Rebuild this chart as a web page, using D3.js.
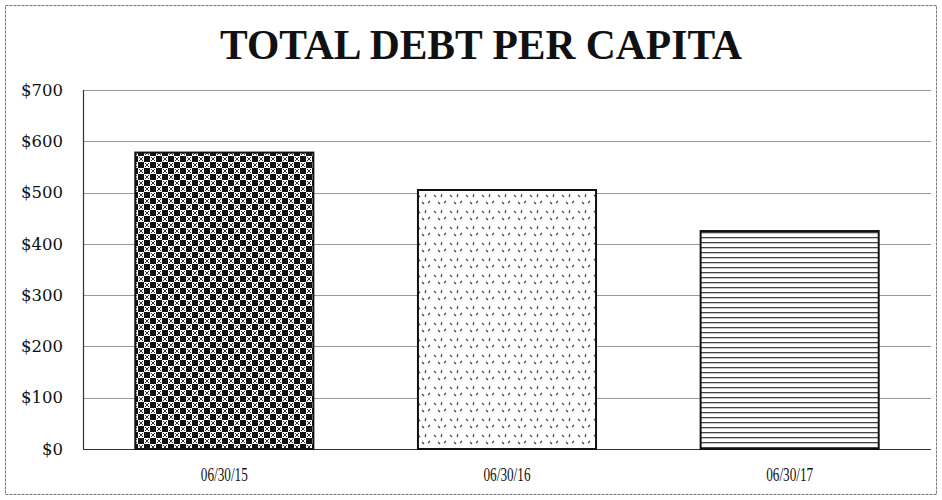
<!DOCTYPE html>
<html><head><meta charset="utf-8">
<script src="https://cdn.jsdelivr.net/npm/d3@7"></script>
<style>body{margin:0;background:#fff}svg{display:block}</style>
</head><body>
<script>
const categories = ["06/30/15", "06/30/16", "06/30/17"];
const values = [578, 505, 425];
const yTicks = [0, 100, 200, 300, 400, 500, 600, 700];
const title = "TOTAL DEBT PER CAPITA";

const W = 942, H = 500;
const m = {left: 83, right: 11, top: 90, bottom: 51};
const svg = d3.select("body").append("svg").attr("width", W).attr("height", H);
const defs = svg.append("defs");

// checkerboard
const p1 = defs.append("pattern").attr("id","p1").attr("patternUnits","userSpaceOnUse").attr("width",12).attr("height",12);
p1.append("rect").attr("width",12).attr("height",12).attr("fill","#fff");
p1.append("rect").attr("x",0).attr("y",0).attr("width",6).attr("height",6).attr("fill","#111");
p1.append("rect").attr("x",6).attr("y",6).attr("width",6).attr("height",6).attr("fill","#111");
p1.append("path").attr("d","M7 1 L11 5 M11 1 L7 5 M1 7 L5 11 M5 7 L1 11").attr("stroke","#333").attr("stroke-width",1);
// sparse dots
const p2 = defs.append("pattern").attr("id","p2").attr("patternUnits","userSpaceOnUse").attr("width",16).attr("height",16);
p2.append("rect").attr("width",16).attr("height",16).attr("fill","#fff");
p2.append("path").attr("d","M2 3 L4 5 M10 2 L9 5 M6 10 L8 12 M14 9 L12 11").attr("stroke","#444").attr("stroke-width",1.2);
// horizontal lines
const p3 = defs.append("pattern").attr("id","p3").attr("patternUnits","userSpaceOnUse").attr("width",8).attr("height",5);
p3.append("rect").attr("width",8).attr("height",5).attr("fill","#fff");
p3.append("rect").attr("y",2).attr("width",8).attr("height",1.3).attr("fill","#444");
const fills = ["url(#p1)","url(#p2)","url(#p3)"];

// outer frame
svg.append("rect").attr("x",5.5).attr("y",5.5).attr("width",W-11).attr("height",H-11)
  .attr("fill","none").attr("stroke","#777").attr("stroke-dasharray","3,1");

svg.append("text").attr("x",481).attr("y",59).attr("text-anchor","middle")
  .attr("font-family","'Liberation Serif', serif").attr("font-weight","bold").attr("font-size",42)
  .attr("textLength",522).attr("lengthAdjust","spacingAndGlyphs")
  .attr("fill","#111").text(title);

const x = d3.scaleBand().domain(categories).range([m.left, W - m.right]).paddingInner(0.37).paddingOuter(0.185);
const y = d3.scaleLinear().domain([0, 700]).range([H - m.bottom, m.top]);

const g = svg.append("g");
g.selectAll("line.grid").data(yTicks).join("line")
  .attr("x1", m.left).attr("x2", W - m.right)
  .attr("y1", d => Math.round(y(d)) + 0.5).attr("y2", d => Math.round(y(d)) + 0.5)
  .attr("stroke", d => d === 0 ? "#333" : "#999").attr("stroke-width", 1.2);

g.append("line").attr("x1", m.left + 0.5).attr("x2", m.left + 0.5)
  .attr("y1", y(700)).attr("y2", y(0)).attr("stroke","#333").attr("stroke-width",1.2);

const yAxis = d3.axisLeft(y).tickValues(yTicks).tickSize(0).tickPadding(20).tickFormat(d => "$" + d);
const ya = svg.append("g").attr("transform",`translate(${m.left},0)`).call(yAxis);
ya.select(".domain").remove();
ya.selectAll("text").attr("font-family","'DejaVu Serif', serif").attr("font-size",16.5).attr("fill","#111");

svg.selectAll("rect.bar").data(values).join("rect").attr("class","bar")
  .attr("x", (d,i) => x(categories[i])).attr("width", x.bandwidth())
  .attr("y", d => y(d)).attr("height", d => y(0) - y(d))
  .attr("fill", (d,i) => fills[i]).attr("stroke","#111").attr("stroke-width",2);

const xAxis = d3.axisBottom(x).tickSize(0).tickPadding(19);
const xa = svg.append("g").attr("transform",`translate(0,${y(0)})`).call(xAxis);
xa.select(".domain").remove();
xa.selectAll("text").attr("font-family","'Liberation Serif', serif").attr("font-size",18)
  .attr("textLength",47).attr("lengthAdjust","spacingAndGlyphs").attr("fill","#111");
</script>
</body></html>
